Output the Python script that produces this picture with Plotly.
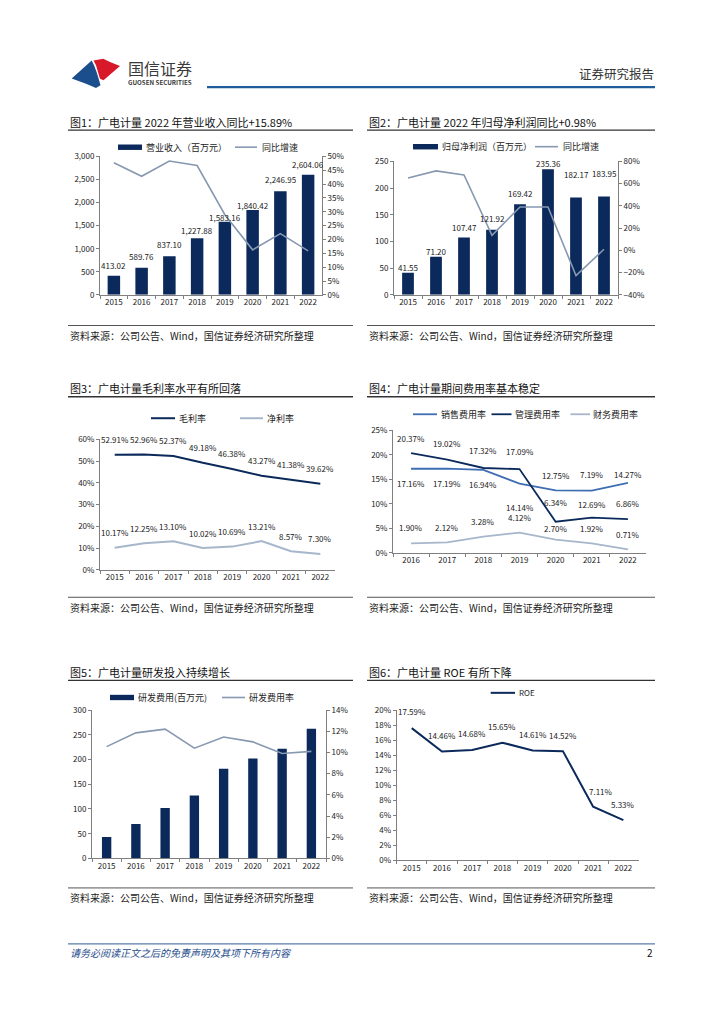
import plotly.graph_objects as go

W, H = 724, 1024
FONT = "Noto Sans CJK SC"

# ---------------- data ----------------
years8 = ["2015", "2016", "2017", "2018", "2019", "2020", "2021", "2022"]
years7 = ["2016", "2017", "2018", "2019", "2020", "2021", "2022"]

revenue = [413.02, 589.76, 837.10, 1227.88, 1583.16, 1840.42, 2246.95, 2604.06]
revenue_yoy = [0.477, 0.428, 0.483, 0.4668, 0.2893, 0.1625, 0.2209, 0.1589]

net_profit = [41.55, 71.20, 107.47, 121.92, 169.42, 235.36, 182.17, 183.95]
net_profit_yoy = [0.650, 0.7136, 0.678, 0.1345, 0.3896, 0.3892, -0.226, 0.0098]

gross_margin = [0.5291, 0.5296, 0.5237, 0.4918, 0.4638, 0.4327, 0.4138, 0.3962]
net_margin = [0.1017, 0.1225, 0.1310, 0.1002, 0.1069, 0.1321, 0.0857, 0.0730]

sales_exp = [0.1716, 0.1719, 0.1694, 0.1414, 0.1275, 0.1269, 0.1427]
admin_exp = [0.2037, 0.1902, 0.1732, 0.1709, 0.0634, 0.0719, 0.0686]
fin_exp = [0.0190, 0.0212, 0.0328, 0.0412, 0.0270, 0.0192, 0.0071]

rd_expense = [43.4, 69.4, 102.0, 127.4, 181.4, 202.0, 222.0, 262.0]
rd_ratio = [0.1055, 0.1185, 0.1220, 0.1040, 0.1145, 0.1100, 0.0990, 0.1010]

roe = [0.1759, 0.1446, 0.1468, 0.1565, 0.1461, 0.1452, 0.0711, 0.0533]

titles = ["图1：广电计量 2022 年营业收入同比+15.89%",
          "图2：广电计量 2022 年归母净利润同比+0.98%",
          "图3：广电计量毛利率水平有所回落",
          "图4：广电计量期间费用率基本稳定",
          "图5：广电计量研发投入持续增长",
          "图6：广电计量 ROE 有所下降"]
source_text = "资料来源：公司公告、Wind，国信证券经济研究所整理"

# ---------------- style ----------------
NAVY = "#0B2A5B"
GRAYBLUE = "#8798B1"
LIGHT = "#A7B6CA"
MIDBLUE = "#3F6DB2"
AXIS = "#7F7F7F"
TXT = "#222222"


def xd(x0, x1):
    return [x0 / W, x1 / W]


def yd(top, bottom):
    return [1 - bottom / H, 1 - top / H]


def txt(x, y, s, size, color=TXT, xanchor="left", yanchor="middle"):
    return dict(x=x / W, y=1 - y / H, xref="paper", yref="paper", text=s,
                showarrow=False, xanchor=xanchor, yanchor=yanchor,
                font=dict(family=FONT, size=size, color=color))


def hline(x0, x1, y, color, width):
    return dict(type="line", xref="paper", yref="paper", x0=x0 / W, x1=x1 / W,
                y0=1 - y / H, y1=1 - y / H, line=dict(color=color, width=width))


def rect(x0, y0, x1, y1, color):
    return dict(type="rect", xref="paper", yref="paper", x0=x0 / W, x1=x1 / W,
                y0=1 - y1 / H, y1=1 - y0 / H, fillcolor=color, line=dict(width=0))


def path(points, color):
    d = "M " + " L ".join(f"{x / W:.5f},{1 - y / H:.5f}" for x, y in points) + " Z"
    return dict(type="path", xref="paper", yref="paper", path=d,
                fillcolor=color, line=dict(width=0))


tickfont = dict(family=FONT, size=8, color=TXT)
axis_common = dict(showline=True, linecolor=AXIS, linewidth=1, ticks="outside",
                   ticklen=3, tickcolor=AXIS, tickfont=tickfont, showgrid=False,
                   zeroline=False, fixedrange=True)


def xaxis(domain, n, anchor):
    return dict(axis_common, type="category", domain=domain, range=[-0.5, n - 0.5],
                tickson="boundaries", anchor=anchor)


def yaxis(domain, rng, dtick, fmt, anchor, side="left", overlaying=None):
    d = dict(axis_common, domain=domain, range=rng, dtick=dtick, tick0=0,
             tickformat=fmt, anchor=anchor, side=side)
    if overlaying:
        d["overlaying"] = overlaying
        d.pop("domain")
    return d


fig = go.Figure()
annotations = []
shapes = []

# ---------------- geometry (pixels) ----------------
X1 = xd(100, 322); Y1 = yd(152, 292)
X2 = xd(394, 618); Y2 = yd(157, 292)
X3 = xd(100, 335); Y3 = yd(438, 570)
X4 = xd(393, 646); Y4 = yd(429, 552.7)
X5 = xd(92, 326); Y5 = yd(711.7, 861.7)
X6 = xd(396.6, 638.5); Y6 = yd(711.7, 863.3)

layout_axes = dict(
    xaxis=xaxis(X1, 8, "y"),
    yaxis=yaxis(Y1, [0, 3000], 500, ",d", "x"),
    yaxis2=yaxis(None, [0, 0.5], 0.05, ".0%", "x", "right", "y"),
    xaxis2=xaxis(X2, 8, "y3"),
    yaxis3=yaxis(Y2, [0, 250], 50, "d", "x2"),
    yaxis4=yaxis(None, [-0.4, 0.8], 0.2, ".0%", "x2", "right", "y3"),
    xaxis3=xaxis(X3, 8, "y5"),
    yaxis5=yaxis(Y3, [0, 0.6], 0.1, ".0%", "x3"),
    xaxis4=xaxis(X4, 7, "y6"),
    yaxis6=yaxis(Y4, [0, 0.25], 0.05, ".0%", "x4"),
    xaxis5=xaxis(X5, 8, "y7"),
    yaxis7=yaxis(Y5, [0, 300], 50, "d", "x5"),
    yaxis8=yaxis(None, [0, 0.14], 0.02, ".0%", "x5", "right", "y7"),
    xaxis6=xaxis(X6, 8, "y9"),
    yaxis9=yaxis(Y6, [0, 0.2], 0.02, ".0%", "x6"),
)

# ---------------- traces ----------------
fig.add_trace(go.Bar(x=years8, y=revenue, xaxis="x", yaxis="y", width=0.45,
                     marker=dict(color=NAVY, line=dict(width=0)), showlegend=False))
fig.add_trace(go.Scatter(x=years8, y=revenue_yoy, xaxis="x", yaxis="y2", mode="lines",
                         line=dict(color=GRAYBLUE, width=1.6), showlegend=False))
fig.add_trace(go.Bar(x=years8, y=net_profit, xaxis="x2", yaxis="y3", width=0.42,
                     marker=dict(color=NAVY, line=dict(width=0)), showlegend=False))
fig.add_trace(go.Scatter(x=years8, y=net_profit_yoy, xaxis="x2", yaxis="y4", mode="lines",
                         line=dict(color=GRAYBLUE, width=1.6), showlegend=False))
fig.add_trace(go.Scatter(x=years8, y=gross_margin, xaxis="x3", yaxis="y5", mode="lines",
                         line=dict(color=NAVY, width=2), showlegend=False))
fig.add_trace(go.Scatter(x=years8, y=net_margin, xaxis="x3", yaxis="y5", mode="lines",
                         line=dict(color=LIGHT, width=2), showlegend=False))
fig.add_trace(go.Scatter(x=years7, y=sales_exp, xaxis="x4", yaxis="y6", mode="lines",
                         line=dict(color=MIDBLUE, width=1.8), showlegend=False))
fig.add_trace(go.Scatter(x=years7, y=admin_exp, xaxis="x4", yaxis="y6", mode="lines",
                         line=dict(color=NAVY, width=1.8), showlegend=False))
fig.add_trace(go.Scatter(x=years7, y=fin_exp, xaxis="x4", yaxis="y6", mode="lines",
                         line=dict(color=LIGHT, width=1.8), showlegend=False))
fig.add_trace(go.Bar(x=years8, y=rd_expense, xaxis="x5", yaxis="y7", width=0.32,
                     marker=dict(color=NAVY, line=dict(width=0)), showlegend=False))
fig.add_trace(go.Scatter(x=years8, y=rd_ratio, xaxis="x5", yaxis="y8", mode="lines",
                         line=dict(color=GRAYBLUE, width=1.6), showlegend=False))
fig.add_trace(go.Scatter(x=years8, y=roe, xaxis="x6", yaxis="y9", mode="lines",
                         line=dict(color=NAVY, width=2), showlegend=False))


# ---------------- data labels ----------------
def labels(xref, yref, values, fmt, yshifts, xshifts=None, size=8):
    for i, v in enumerate(values):
        annotations.append(dict(x=i, y=v, xref=xref, yref=yref, text=fmt(v),
                                showarrow=False, yshift=yshifts[i],
                                xshift=(xshifts[i] if xshifts else 0),
                                font=dict(family=FONT, size=size, color=TXT)))


money = lambda v: f"{v:,.2f}"
pct = lambda v: f"{v * 100:.2f}%"

labels("x", "y", revenue, money, [10, 11, 12, 8, 4, 4, 12, 10])
labels("x2", "y3", net_profit, money, [5, 5, 10, 11, 11, 6, 23, 23])
labels("x3", "y5", gross_margin, pct, [15] * 8)
labels("x3", "y5", net_margin, pct, [15] * 8)
labels("x4", "y6", admin_exp, pct, [15, 16, 17, 18, 19, 43, 16])
labels("x4", "y6", sales_exp, pct, [-15, -15, -15, -24, 15, -14, 8])
labels("x4", "y6", fin_exp, pct, [16, 15, 15, 15, 11, 15, 15])
labels("x6", "y9", roe, pct, [17, 16, 16, 16, 16, 16, 15, 16],
       [0, 0, 0, 0, 0, 0, 8, 0])

# ---------------- page furniture ----------------
shapes.append(path([(71.7, 73.3), (91.7, 55), (94, 60), (96.5, 66.5), (98.5, 73),
                    (100.5, 80), (96, 83), (86, 78.5)], "#1B4E8C"))
shapes.append(path([(93.5, 55), (103.3, 53.3), (110, 56.7), (120, 60.7), (103.5, 75),
                    (100, 73.5), (98, 67), (96, 60)], "#D7192A"))
annotations.append(txt(126, 63, "国信证券", 16, "#3A3A3A"))
annotations.append(txt(126, 77.5, "<b>GUOSEN SECURITIES</b>", 6.2, "#3A3A3A"))
annotations.append(txt(656, 68, "证券研究报告", 12.5, "#333333", xanchor="right"))
shapes.append(hline(207, 655, 82, "#1F5C99", 2.2))

cols = [(68, 353), (367, 655)]
rows = [(117, 125.5, 323, 333.5), (386, 395, 597.7, 608), (673, 681.7, 891.5, 901)]
for r, (ty, uy, sy, sty) in enumerate(rows):
    for c, (cx0, cx1) in enumerate(cols):
        annotations.append(txt(cx0, ty, titles[r * 2 + c], 11, "#111111"))
        shapes.append(hline(cx0, cx1, uy, "#333333", 1.3))
        shapes.append(hline(cx0, cx1, sy, "#555555", 1))
        annotations.append(txt(cx0, sty, source_text, 10, TXT))

LG = 9
shapes.append(rect(118, 140, 142, 145.5, NAVY))
annotations.append(txt(144, 142.7, "营业收入（百万元）", LG))
shapes.append(hline(235, 257, 142.7, GRAYBLUE, 1.6))
annotations.append(txt(260, 142.7, "同比增速", LG))
shapes.append(rect(413, 139.5, 438, 145, NAVY))
annotations.append(txt(440, 142.2, "归母净利润（百万元）", LG))
shapes.append(hline(535, 558, 142.2, GRAYBLUE, 1.6))
annotations.append(txt(561, 142.2, "同比增速", LG))
shapes.append(hline(151, 175, 416.7, NAVY, 2))
annotations.append(txt(177, 416.7, "毛利率", LG))
shapes.append(hline(240, 263, 416.7, LIGHT, 2))
annotations.append(txt(265, 416.7, "净利率", LG))
shapes.append(hline(413, 437, 412.7, MIDBLUE, 1.8))
annotations.append(txt(439, 412.7, "销售费用率", LG))
shapes.append(hline(491.5, 511.5, 412.7, NAVY, 1.8))
annotations.append(txt(513, 412.7, "管理费用率", LG))
shapes.append(hline(570.5, 590, 412.7, LIGHT, 1.8))
annotations.append(txt(591, 412.7, "财务费用率", LG))
shapes.append(rect(110, 696.3, 134, 701.7, NAVY))
annotations.append(txt(136, 699, "研发费用(百万元)", LG))
shapes.append(hline(222, 245, 699, GRAYBLUE, 1.6))
annotations.append(txt(247, 699, "研发费用率", LG))
shapes.append(hline(490.7, 515, 694.3, NAVY, 2))
annotations.append(txt(517, 694.3, "ROE", 8))

shapes.append(hline(68, 655, 948, "#5A7DA8", 1.2))
annotations.append(txt(68, 957, "<i>请务必阅读正文之后的免责声明及其项下所有内容</i>", 10, "#1F4E8C"))
annotations.append(txt(655, 957, "2", 10, "#111111", xanchor="right"))

fig.update_layout(
    width=W, height=H, autosize=False,
    margin=dict(l=0, r=0, t=0, b=0),
    paper_bgcolor="white", plot_bgcolor="white",
    font=dict(family=FONT, size=9, color=TXT),
    showlegend=False,
    annotations=annotations,
    shapes=shapes,
    **layout_axes,
)

fig.write_html("out.html", config={"displayModeBar": False},
               post_script="document.body.style.margin='0';")
